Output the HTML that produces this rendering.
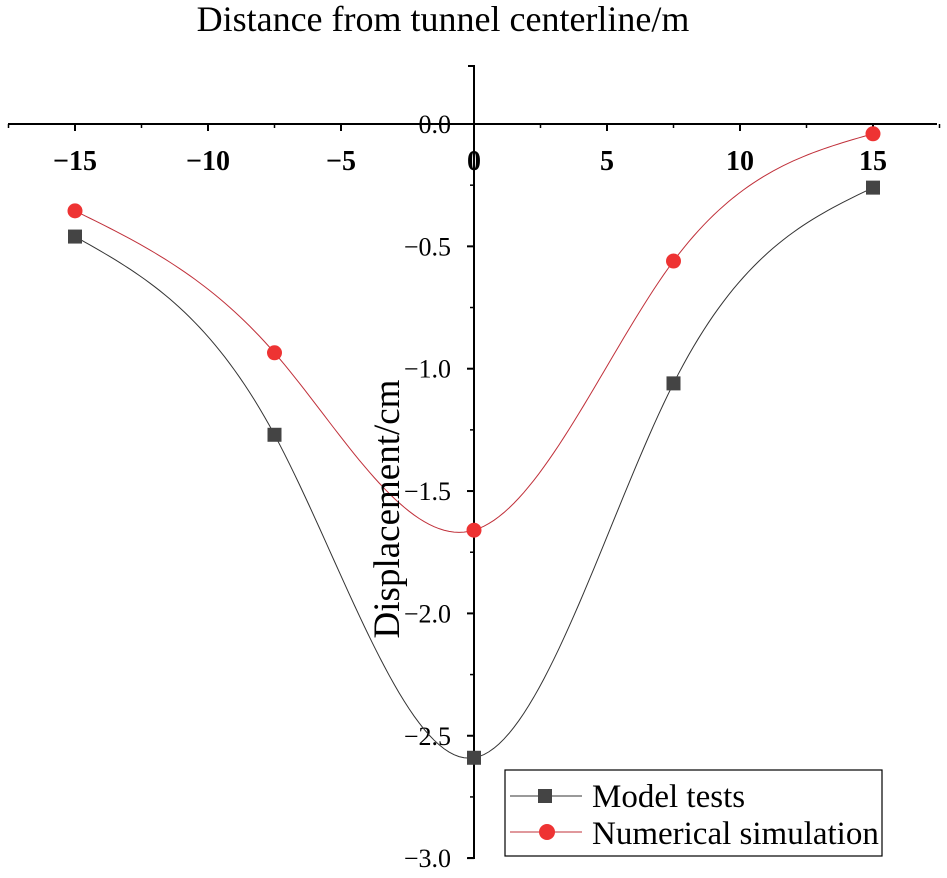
<!DOCTYPE html>
<html><head><meta charset="utf-8"><style>
body{margin:0;background:#fff}
svg{display:block;font-family:"Liberation Serif",serif}
.xt{font-size:28px;font-weight:bold}
.yt{font-size:26px}
</style></head><body>
<svg id="chart" width="947" height="878" viewBox="0 0 947 878">
<text x="443" y="31" style="font-size:36px" text-anchor="middle">Distance from tunnel centerline/m</text>
<g id="axes"></g>
<g id="series"></g>
<text transform="translate(399,509) rotate(-90)" style="font-size:37px" text-anchor="middle">Displacement/cm</text>
<g>
<rect x="505" y="770" width="377" height="86" fill="#fff" stroke="#000" stroke-width="1.2"/>
<line x1="510" y1="796" x2="582" y2="796" stroke="#333" stroke-width="1"/>
<rect x="538" y="789" width="14" height="14" fill="#444"/>
<text x="592" y="807" style="font-size:33px">Model tests</text>
<line x1="510" y1="832" x2="582" y2="832" stroke="#c0303a" stroke-width="1"/>
<circle cx="547" cy="832" r="8" fill="#ee3333"/>
<text x="592" y="844" style="font-size:33px">Numerical simulation</text>
</g>
</svg>
<script>
const xValues=[-15,-7.5,0,7.5,15];
const modelTests=[-0.46,-1.27,-2.59,-1.06,-0.26];
const numericalSim=[-0.355,-0.935,-1.66,-0.56,-0.04];
const xTicks=[-15,-10,-5,0,5,10,15];
const yTicks=[0,-0.5,-1,-1.5,-2,-2.5,-3];
const yTickLabels=["0.0","\u22120.5","\u22121.0","\u22121.5","\u22122.0","\u22122.5","\u22123.0"];
const NS="http://www.w3.org/2000/svg";
const X=v=>474+v*26.6;
const Y=v=>124-v*244.7;
function mk(tag,attrs,parent,text){const e=document.createElementNS(NS,tag);for(const k in attrs)e.setAttribute(k,attrs[k]);if(text!==undefined)e.textContent=text;parent.appendChild(e);return e;}
const axes=document.getElementById('axes');
const xa=mk('line',{x1:8,y1:124,x2:937,y2:124,stroke:'#000','stroke-width':2},axes);


const ya=mk('path',{d:'M468 66 H474 V858 H468',fill:'none',stroke:'#000','stroke-width':2},axes);


xTicks.forEach(t=>{
  mk('line',{x1:X(t),y1:124,x2:X(t),y2:131,stroke:'#000','stroke-width':2},axes);
  if(t!==0)mk('line',{x1:X(t-2.5),y1:124,x2:X(t-2.5),y2:128,stroke:'#000','stroke-width':1.5},axes);
  if(t===15)mk('line',{x1:X(17.5),y1:124,x2:X(17.5),y2:128,stroke:'#000','stroke-width':1.5},axes);
  const lb=mk('text',{x:X(t),y:170,'class':'xt','text-anchor':'middle'},axes,t<0?'\u2212'+(-t):String(t));
  
  
});
yTicks.forEach((t,i)=>{
  mk('line',{x1:467,y1:Y(t),x2:474,y2:Y(t),stroke:'#000','stroke-width':2},axes);
  if(i>0)mk('line',{x1:470,y1:Y(t+0.25),x2:474,y2:Y(t+0.25),stroke:'#000','stroke-width':1.5},axes);
  const lb=mk('text',{x:451,y:Y(t)+9,'class':'yt','text-anchor':'end'},axes,yTickLabels[i]);
  
  
});
function spline(xs,ys){
  const n=xs.length,h=[],al=[0],l=[1],mu=[0],z=[0],c=new Array(n).fill(0),b=[],d=[];
  for(let i=0;i<n-1;i++)h.push(xs[i+1]-xs[i]);
  for(let i=1;i<n-1;i++)al[i]=3/h[i]*(ys[i+1]-ys[i])-3/h[i-1]*(ys[i]-ys[i-1]);
  for(let i=1;i<n-1;i++){l[i]=2*(xs[i+1]-xs[i-1])-h[i-1]*mu[i-1];mu[i]=h[i]/l[i];z[i]=(al[i]-h[i-1]*z[i-1])/l[i];}
  for(let j=n-2;j>=1;j--)c[j]=z[j]-mu[j]*c[j+1];
  for(let j=0;j<n-1;j++){b[j]=(ys[j+1]-ys[j])/h[j]-h[j]*(c[j+1]+2*c[j])/3;d[j]=(c[j+1]-c[j])/(3*h[j]);}
  let s='';
  for(let j=0;j<n-1;j++)for(let k=0;k<=40;k++){const t=h[j]*k/40;const v=ys[j]+b[j]*t+c[j]*t*t+d[j]*t*t*t;s+=(s?' L':'M')+X(xs[j]+t).toFixed(2)+' '+Y(v).toFixed(2);}
  return s;
}
const g=document.getElementById('series');
const l1=mk('path',{d:spline(xValues,modelTests),fill:'none',stroke:'#333','stroke-width':1},g);


const l2=mk('path',{d:spline(xValues,numericalSim),fill:'none',stroke:'#c0303a','stroke-width':1},g);


xValues.forEach((x,i)=>{
  const r=mk('rect',{x:X(x)-7,y:Y(modelTests[i])-7,width:14,height:14,fill:'#444'},g);
  
  
  const c=mk('circle',{cx:X(x),cy:Y(numericalSim[i]),r:7.5,fill:'#ee3333'},g);
  
  
});
</script>
</body></html>
